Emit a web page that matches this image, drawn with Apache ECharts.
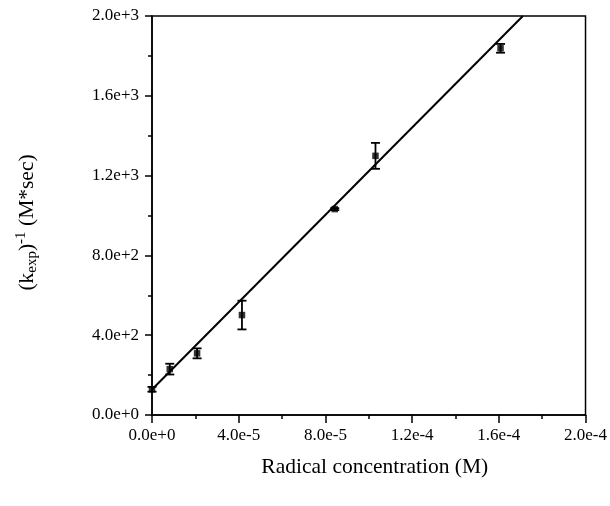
<!DOCTYPE html>
<html>
<head>
<meta charset="utf-8">
<script src="https://cdn.jsdelivr.net/npm/echarts@6/dist/echarts.min.js"></script>
<style>
  html, body { margin: 0; padding: 0; background: #fff; }
  #chart { width: 610px; height: 506px; }
</style>
</head>
<body>
<div id="chart"></div>
<script>
// measured points: radical concentration (M) vs 1/k_exp (M*sec)
var concentration = [0, 8.2e-6, 2.08e-5, 4.15e-5, 8.43e-5, 1.031e-4, 1.608e-4];
var invK = [129, 230, 309, 501, 1032, 1299, 1838];
var invKErr = [12, 27, 25, 72, 5, 65, 22];

// linear fit, drawn between these two ends
var fitX = [0, 1.711e-4];
var fitY = [128, 2000];

var xTicks = { min: 0, max: 2e-4, interval: 4e-5 };
var yTicks = { min: 0, max: 2000, interval: 400 };

var FONT = 'Liberation Serif';

function sci(v) {
    return Number(v).toExponential(1);
}

var points = concentration.map(function (x, i) { return [x, invK[i]]; });
var bars = concentration.map(function (x, i) {
    return [x, invK[i] - invKErr[i], invK[i] + invKErr[i]];
});
var fitLine = fitX.map(function (x, i) { return [x, fitY[i]]; });

var chart = echarts.init(document.getElementById('chart'), null, { renderer: 'canvas' });

chart.setOption({
    animation: false,
    backgroundColor: '#fff',
    grid: {
        left: 152, right: 24, top: 16, bottom: 91,
        show: true, borderColor: '#000', borderWidth: 1.5
    },
    xAxis: {
        type: 'value',
        min: xTicks.min, max: xTicks.max, interval: xTicks.interval,
        name: 'Radical concentration (M)',
        nameLocation: 'middle',
        nameGap: 41,
        nameTextStyle: { fontFamily: FONT, fontSize: 21.5, color: '#000', padding: [0, 0, 0, 12] },
        axisLine: { show: true, onZero: false, lineStyle: { color: '#000', width: 1.5 } },
        axisTick: { show: true, inside: false, length: 8, lineStyle: { color: '#000', width: 1.5 } },
        minorTick: { show: true, splitNumber: 2, length: 4, lineStyle: { color: '#000', width: 1.5 } },
        splitLine: { show: false },
        axisLabel: {
            formatter: sci, margin: 12,
            fontFamily: FONT, fontSize: 17, color: '#000'
        }
    },
    yAxis: {
        type: 'value',
        min: yTicks.min, max: yTicks.max, interval: yTicks.interval,
        name: '(k{sub|exp}){sup|-1} (M*sec)',
        nameLocation: 'middle',
        nameRotate: 90,
        nameGap: 112,
        nameTextStyle: {
            fontFamily: FONT, fontSize: 21.5, color: '#000',
            padding: [0, 14, 0, 0],
            rich: {
                sub: { fontFamily: FONT, fontSize: 15, color: '#000', verticalAlign: 'bottom', padding: [11, 0, 0, 0] },
                sup: { fontFamily: FONT, fontSize: 15, color: '#000', verticalAlign: 'top', padding: [0, 0, 11, 0] }
            }
        },
        axisLine: { show: true, onZero: false, lineStyle: { color: '#000', width: 1.5 } },
        axisTick: { show: true, inside: false, length: 7, lineStyle: { color: '#000', width: 1.5 } },
        minorTick: { show: true, splitNumber: 2, length: 4, lineStyle: { color: '#000', width: 1.5 } },
        splitLine: { show: false },
        axisLabel: {
            formatter: sci, margin: 13,
            fontFamily: FONT, fontSize: 17, color: '#000'
        }
    },
    series: [
        {
            type: 'line',
            data: fitLine,
            symbol: 'none',
            lineStyle: { color: '#000', width: 2 },
            silent: true,
            z: 2
        },
        {
            type: 'custom',
            data: bars,
            renderItem: function (params, api) {
                var x = api.value(0);
                var lo = api.coord([x, api.value(1)]);
                var hi = api.coord([x, api.value(2)]);
                var cap = 4.5;
                var style = { stroke: '#000', lineWidth: 1.8 };
                return {
                    type: 'group',
                    children: [
                        { type: 'line', shape: { x1: lo[0], y1: lo[1], x2: hi[0], y2: hi[1] }, style: style },
                        { type: 'line', shape: { x1: lo[0] - cap, y1: lo[1], x2: lo[0] + cap, y2: lo[1] }, style: style },
                        { type: 'line', shape: { x1: hi[0] - cap, y1: hi[1], x2: hi[0] + cap, y2: hi[1] }, style: style }
                    ]
                };
            },
            z: 3
        },
        {
            type: 'scatter',
            data: points,
            symbol: 'rect',
            symbolSize: 6.5,
            itemStyle: { color: '#000' },
            z: 4
        }
    ]
});
</script>
</body>
</html>
